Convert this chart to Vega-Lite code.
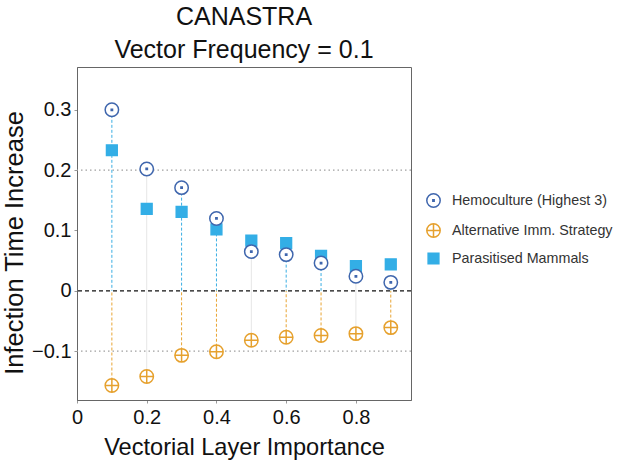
{
  "$schema": "https://vega.github.io/schema/vega-lite/v6.json",
  "width": 334,
  "height": 333,
  "autosize": {"type": "none"},
  "padding": {"left": 77, "top": 67, "right": 206, "bottom": 62},
  "config": {
    "font": "Liberation Sans",
    "view": {"stroke": "#666", "strokeWidth": 1},
    "axis": {
      "grid": false,
      "domainColor": "#666",
      "tickColor": "#999",
      "tickSize": 3,
      "labelFont": "Liberation Sans",
      "labelFontSize": 20,
      "labelColor": "#111",
      "labelFlush": false,
      "titleFont": "Liberation Sans",
      "titleFontWeight": "normal",
      "titleColor": "#111",
      "titleBaseline": "alphabetic"
    }
  },
  "title": {
    "text": ["CANASTRA", "Vector Frequency = 0.1"],
    "font": "Liberation Sans",
    "fontSize": 25,
    "fontWeight": "normal",
    "color": "#111",
    "lineHeight": 33,
    "offset": 4,
    "anchor": "middle",
    "frame": "group"
  },
  "data": {
    "values": [
      {"x": 0.1, "series": "Parasitised Mammals", "value": 0.233},
      {"x": 0.2, "series": "Parasitised Mammals", "value": 0.136},
      {"x": 0.3, "series": "Parasitised Mammals", "value": 0.131},
      {"x": 0.4, "series": "Parasitised Mammals", "value": 0.102},
      {"x": 0.5, "series": "Parasitised Mammals", "value": 0.083},
      {"x": 0.6, "series": "Parasitised Mammals", "value": 0.079},
      {"x": 0.7, "series": "Parasitised Mammals", "value": 0.058},
      {"x": 0.8, "series": "Parasitised Mammals", "value": 0.041},
      {"x": 0.9, "series": "Parasitised Mammals", "value": 0.044},
      {"x": 0.1, "series": "Hemoculture (Highest 3)", "value": 0.3},
      {"x": 0.2, "series": "Hemoculture (Highest 3)", "value": 0.202},
      {"x": 0.3, "series": "Hemoculture (Highest 3)", "value": 0.171},
      {"x": 0.4, "series": "Hemoculture (Highest 3)", "value": 0.12},
      {"x": 0.5, "series": "Hemoculture (Highest 3)", "value": 0.065},
      {"x": 0.6, "series": "Hemoculture (Highest 3)", "value": 0.06},
      {"x": 0.7, "series": "Hemoculture (Highest 3)", "value": 0.046},
      {"x": 0.8, "series": "Hemoculture (Highest 3)", "value": 0.024},
      {"x": 0.9, "series": "Hemoculture (Highest 3)", "value": 0.014},
      {"x": 0.1, "series": "Alternative Imm. Strategy", "value": -0.157},
      {"x": 0.2, "series": "Alternative Imm. Strategy", "value": -0.142},
      {"x": 0.3, "series": "Alternative Imm. Strategy", "value": -0.107},
      {"x": 0.4, "series": "Alternative Imm. Strategy", "value": -0.101},
      {"x": 0.5, "series": "Alternative Imm. Strategy", "value": -0.082},
      {"x": 0.6, "series": "Alternative Imm. Strategy", "value": -0.077},
      {"x": 0.7, "series": "Alternative Imm. Strategy", "value": -0.074},
      {"x": 0.8, "series": "Alternative Imm. Strategy", "value": -0.071},
      {"x": 0.9, "series": "Alternative Imm. Strategy", "value": -0.061}
    ]
  },
  "encoding": {
    "x": {
      "field": "x",
      "type": "quantitative",
      "scale": {"domain": [0, 0.958], "nice": false, "zero": false},
      "axis": {
        "values": [0, 0.2, 0.4, 0.6, 0.8],
        "format": ".1~f",
        "labelPadding": 4,
        "title": "Vectorial Layer Importance",
        "titleFontSize": 23.6,
        "titleY": 54
      }
    },
    "y": {
      "field": "value",
      "type": "quantitative",
      "scale": {"domain": [-0.181, 0.371], "nice": false, "zero": false},
      "axis": {
        "values": [-0.1, 0, 0.1, 0.2, 0.3],
        "format": ".1~f",
        "labelPadding": 3,
        "title": "Infection Time Increase",
        "titleFontSize": 25.5,
        "titleX": -54.3,
        "titleY": 175.5
      }
    }
  },
  "layer": [
    {
      "data": {"values": [{"g": 0.2}, {"g": -0.1}]},
      "mark": {"type": "rule", "color": "#a0a0a0", "strokeDash": [1.5, 3], "strokeWidth": 1.2},
      "encoding": {"x": null, "y": {"field": "g", "type": "quantitative"}}
    },
    {
      "data": {"values": [{"g": 0}]},
      "mark": {"type": "rule", "color": "#111", "strokeDash": [4, 3], "strokeWidth": 1.2},
      "encoding": {"x": null, "y": {"field": "g", "type": "quantitative"}}
    },
    {
      "transform": [
        {"filter": "datum.series != 'Parasitised Mammals' && indexof([0.2, 0.5, 0.8], datum.x) >= 0"}
      ],
      "mark": {"type": "rule", "color": "#e6e6e6", "strokeWidth": 1},
      "encoding": {"y2": {"datum": 0}}
    },
    {
      "transform": [
        {"filter": "datum.series == 'Hemoculture (Highest 3)' && indexof([0.2, 0.5, 0.8], datum.x) < 0"}
      ],
      "mark": {"type": "rule", "color": "#3aaee3", "strokeDash": [3, 2], "strokeWidth": 1},
      "encoding": {"y2": {"datum": 0}}
    },
    {
      "transform": [
        {"filter": "datum.series == 'Alternative Imm. Strategy' && indexof([0.2, 0.5, 0.8], datum.x) < 0"}
      ],
      "mark": {"type": "rule", "color": "#e8a433", "strokeDash": [3, 2], "strokeWidth": 1},
      "encoding": {"y2": {"datum": 0}}
    },
    {
      "mark": {"type": "point", "size": 180, "strokeWidth": 1.5, "opacity": 1},
      "encoding": {
        "shape": {
          "field": "series",
          "type": "nominal",
          "scale": {
            "domain": ["Hemoculture (Highest 3)", "Alternative Imm. Strategy", "Parasitised Mammals"],
            "range": [
              "M -1 0 A 1 1 0 1 0 1 0 A 1 1 0 1 0 -1 0 Z M -0.1 -0.1 L 0.1 -0.1 L 0.1 0.1 L -0.1 0.1 Z",
              "M -1 0 A 1 1 0 1 0 1 0 A 1 1 0 1 0 -1 0 Z M -1 0 L 1 0 M 0 -1 L 0 1",
              "M -0.8 -0.8 L 0.8 -0.8 L 0.8 0.8 L -0.8 0.8 Z"
            ]
          },
          "legend": {
            "title": null,
            "orient": "none",
            "legendX": 349,
            "legendY": 126,
            "symbolSize": 180,
            "symbolStrokeWidth": 1.5,
            "symbolOpacity": 1,
            "labelFont": "Liberation Sans",
            "labelFontSize": 14.3,
            "labelColor": "#333",
            "labelLimit": 0,
            "labelOffset": 11,
            "rowPadding": 9
          }
        },
        "stroke": {
          "field": "series",
          "type": "nominal",
          "scale": {
            "domain": ["Hemoculture (Highest 3)", "Alternative Imm. Strategy", "Parasitised Mammals"],
            "range": ["#3f66ad", "#e6a12e", "#33aee6"]
          }
        },
        "fill": {
          "field": "series",
          "type": "nominal",
          "scale": {
            "domain": ["Hemoculture (Highest 3)", "Alternative Imm. Strategy", "Parasitised Mammals"],
            "range": ["white", "white", "#33aee6"]
          }
        }
      }
    }
  ]
}
